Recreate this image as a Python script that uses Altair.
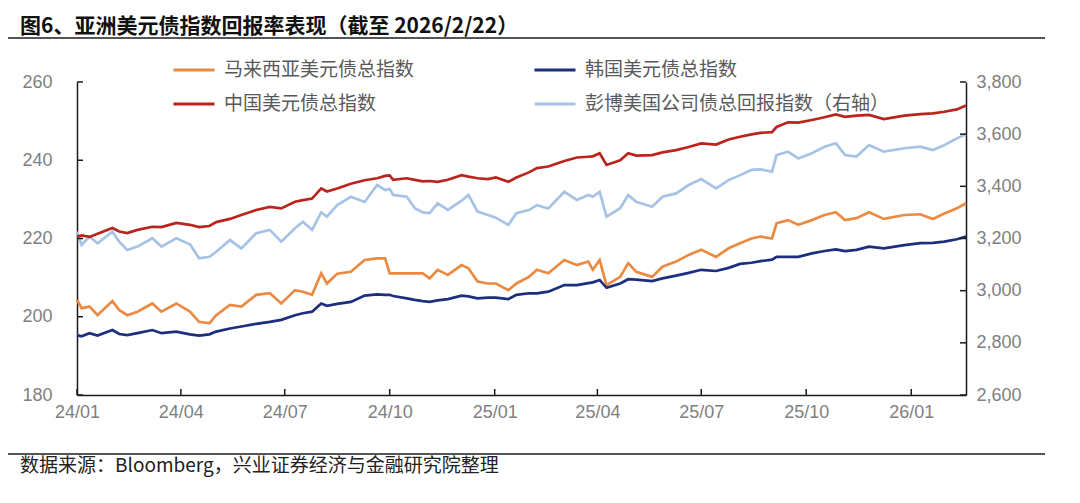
import altair as alt
import pandas as pd

# ---------------- data ----------------
dates = [
    "2024-01-01", "2024-01-05", "2024-01-12", "2024-01-19", "2024-02-01",
    "2024-02-07", "2024-02-14", "2024-02-23", "2024-03-07", "2024-03-15",
    "2024-03-28", "2024-04-09", "2024-04-17", "2024-04-26", "2024-05-02",
    "2024-05-14", "2024-05-24", "2024-06-06", "2024-06-18", "2024-06-28",
    "2024-07-10", "2024-07-17", "2024-07-25", "2024-08-02", "2024-08-07",
    "2024-08-16", "2024-08-28", "2024-09-09", "2024-09-20", "2024-09-27",
    "2024-10-01", "2024-10-04", "2024-10-16", "2024-10-23", "2024-10-30",
    "2024-11-05", "2024-11-12", "2024-11-21", "2024-12-03", "2024-12-09",
    "2024-12-17", "2024-12-26", "2025-01-02", "2025-01-13", "2025-01-20",
    "2025-01-31", "2025-02-07", "2025-02-17", "2025-03-03", "2025-03-14",
    "2025-03-24", "2025-03-28", "2025-04-03", "2025-04-09", "2025-04-21",
    "2025-04-28", "2025-05-05", "2025-05-19", "2025-05-28", "2025-06-09",
    "2025-06-20", "2025-07-01", "2025-07-14", "2025-07-25", "2025-08-04",
    "2025-08-14", "2025-08-22", "2025-09-01", "2025-09-05", "2025-09-15",
    "2025-09-24", "2025-10-06", "2025-10-17", "2025-10-27", "2025-11-04",
    "2025-11-14", "2025-11-25", "2025-12-08", "2025-12-26", "2026-01-09",
    "2026-01-20", "2026-01-30", "2026-02-10", "2026-02-18",
]

malaysia = [
    204.3, 202.2, 202.6, 200.4, 204.0, 201.7, 200.4, 201.3, 203.4, 201.3,
    203.4, 201.3, 198.7, 198.3, 200.4, 203.0, 202.6, 205.6, 206.0, 203.4,
    206.8, 206.4, 205.6, 211.1, 208.5, 211.0, 211.5, 214.5, 214.9, 214.9,
    211.1, 211.1, 211.1, 211.1, 211.1, 209.8, 212.0, 210.7, 213.2, 212.4,
    209.0, 208.5, 208.5, 206.8, 208.5, 210.2, 212.0, 211.1, 214.5, 213.2,
    214.1, 212.0, 214.5, 208.1, 210.2, 213.7, 211.5, 210.2, 212.8, 214.1,
    215.8, 217.1, 215.3, 217.5, 218.8, 220.0, 220.5, 220.0, 223.9, 224.7,
    223.5, 224.7, 226.0, 226.7, 224.7, 225.2, 226.7, 225.0, 226.0, 226.2,
    225.0, 226.4, 227.7, 229.0,
]

korea = [
    195.3, 195.0, 195.8, 195.2, 196.6, 195.6, 195.3, 195.8, 196.6, 195.8,
    196.2, 195.5, 195.2, 195.5, 196.2, 197.0, 197.5, 198.2, 198.7, 199.2,
    200.4, 200.9, 201.3, 203.4, 202.8, 203.3, 203.8, 205.4, 205.7, 205.6,
    205.6, 205.3, 204.7, 204.3, 204.0, 203.8, 204.2, 204.5, 205.4, 205.2,
    204.7, 204.9, 204.9, 204.5, 205.6, 206.0, 206.0, 206.4, 208.1, 208.1,
    208.6, 208.8, 209.4, 207.4, 208.5, 209.6, 209.5, 209.1, 209.8, 210.5,
    211.2, 212.0, 211.7, 212.5, 213.5, 213.8, 214.2, 214.6, 215.3, 215.3,
    215.3, 216.2, 216.8, 217.2, 216.8, 217.1, 217.9, 217.5, 218.3, 218.8,
    218.9, 219.2, 219.8, 220.5,
]

china = [
    220.5, 220.8, 220.4, 221.2, 222.7, 221.8, 221.4, 222.2, 223.0, 222.9,
    224.0, 223.5, 222.9, 223.2, 224.2, 225.0, 226.0, 227.3, 228.1, 227.7,
    229.4, 229.8, 230.2, 232.8, 232.0, 232.8, 234.0, 234.9, 235.4, 236.0,
    236.1, 235.0, 235.4, 235.0, 234.6, 234.7, 234.5, 235.0, 236.2, 235.8,
    235.4, 235.2, 235.6, 234.5, 235.6, 236.9, 238.0, 238.4, 239.8, 240.7,
    240.9, 241.0, 241.8, 238.8, 240.0, 241.8, 241.2, 241.3, 242.0, 242.6,
    243.4, 244.3, 244.0, 245.3, 246.0, 246.6, 247.0, 247.2, 248.5, 249.7,
    249.6, 250.3, 251.0, 251.7, 251.1, 251.4, 251.6, 250.5, 251.4, 251.8,
    252.0, 252.4, 253.0, 254.0,
]

us_corp = [
    3226, 3175, 3207, 3182, 3226, 3188, 3156, 3169, 3201, 3169,
    3201, 3178, 3124, 3130, 3149, 3194, 3162, 3220, 3233, 3188,
    3239, 3264, 3233, 3300, 3284, 3328, 3360, 3340, 3405, 3386,
    3390, 3367, 3360, 3316, 3300, 3297, 3335, 3310, 3345, 3367,
    3303, 3290, 3280, 3252, 3297, 3309, 3328, 3315, 3379, 3348,
    3367, 3360, 3379, 3284, 3316, 3367, 3341, 3322, 3360, 3373,
    3405, 3428, 3392, 3424, 3443, 3463, 3465, 3456, 3520, 3533,
    3507, 3527, 3552, 3565, 3520, 3514, 3558, 3533, 3546, 3552,
    3539, 3558, 3584, 3600,
]

# legend order (filled column by column): col 1 = Malaysia, China; col 2 = Korea, US corp
series_names = [
    "马来西亚美元债总指数",
    "中国美元债总指数",
    "韩国美元债总指数",
    "彭博美国公司债总回报指数（右轴）",
]
series_colors = ["#EA8A43", "#B9251E", "#1C2E7D", "#A6C3E6"]

x_tick_years = [2024, 2024, 2024, 2024, 2025, 2025, 2025, 2025, 2026]
x_tick_months = [1, 4, 7, 10, 1, 4, 7, 10, 1]
left_ticks = [180, 200, 220, 240, 260]
right_ticks = [2600, 2800, 3000, 3200, 3400, 3600, 3800]

title_text = "图6、亚洲美元债指数回报率表现（截至 2026/2/22）"
source_text = "数据来源：Bloomberg，兴业证券经济与金融研究院整理"

# ---------------- tables ----------------
n = len(dates)
left_df = pd.DataFrame({
    "date": dates * 3,
    "value": malaysia + korea + china,
    "series": ["马来西亚美元债总指数"] * n + ["韩国美元债总指数"] * n + ["中国美元债总指数"] * n,
})
right_df = pd.DataFrame({"date": dates, "value": us_corp, "series": [series_names[3]] * n})
xtick_df = pd.DataFrame({"d": [f"{y}-{m:02d}-01" for y, m in zip(x_tick_years, x_tick_months)]})
ltick_df = pd.DataFrame({"v": left_ticks})
rtick_df = pd.DataFrame({"v": right_ticks})

# ---------------- styling ----------------
W, H = 889, 313
AXIS_COLOR = "#1a1a1a"
LABEL_COLOR = "#808080"
NUM_FONT = "Liberation Sans"
CJK_FONT = "Noto Sans CJK SC"

x_scale = alt.Scale(
    type="utc",
    domain=[alt.DateTime(year=2024, month=1, date=1, utc=True),
            alt.DateTime(year=2026, month=2, date=18, utc=True)],
)
x_axis = alt.Axis(
    values=[alt.DateTime(year=y, month=m, date=1, utc=True) for y, m in zip(x_tick_years, x_tick_months)],
    format="%y/%m", title=None, grid=False, ticks=False, tickSize=0,
    labelFont=NUM_FONT, labelFontSize=18, labelColor=LABEL_COLOR, labelPadding=8,
    domainColor=AXIS_COLOR, domainWidth=1.5, labelFlush=False,
)
left_scale = alt.Scale(domain=[180, 260], nice=False, zero=False)
right_scale = alt.Scale(domain=[2600, 3800], nice=False, zero=False)

color_scale = alt.Scale(domain=series_names, range=series_colors)
legend = alt.Legend(
    orient="none", legendX=95, legendY=-34, columns=2, columnPadding=113, rowPadding=2,
    title=None, symbolType="stroke", symbolSize=1681, symbolStrokeWidth=3,
    labelFont=CJK_FONT, labelFontSize=19, labelColor="#595959", labelOffset=8, labelLimit=0,
)

right_line = alt.Chart(right_df).mark_line(strokeWidth=2.7).encode(
    x=alt.X("date:T", scale=x_scale, axis=x_axis),
    y=alt.Y("value:Q", scale=right_scale, axis=alt.Axis(
        orient="right", values=right_ticks, format=",.0f", title=None, grid=False,
        ticks=False, tickSize=0, labelFont=NUM_FONT, labelFontSize=18, labelColor=LABEL_COLOR,
        labelPadding=10, domainColor=AXIS_COLOR, domainWidth=1.5)),
    color=alt.Color("series:N", scale=color_scale, legend=legend),
)

left_lines = alt.Chart(left_df).mark_line(strokeWidth=2.7).encode(
    x=alt.X("date:T", scale=x_scale, axis=x_axis),
    y=alt.Y("value:Q", scale=left_scale, axis=alt.Axis(
        orient="left", values=left_ticks, title=None, grid=False,
        ticks=False, tickSize=0, labelFont=NUM_FONT, labelFontSize=18, labelColor=LABEL_COLOR,
        labelPadding=25, domainColor=AXIS_COLOR, domainWidth=1.5)),
    color=alt.Color("series:N", scale=color_scale, legend=legend),
)

# inward tick marks
left_tick_marks = alt.Chart(ltick_df).mark_rule(color=AXIS_COLOR, strokeWidth=1.5).encode(
    y=alt.Y("v:Q", scale=left_scale, axis=None), x=alt.value(0), x2=alt.value(6))
right_tick_marks = alt.Chart(rtick_df).mark_rule(color=AXIS_COLOR, strokeWidth=1.5).encode(
    y=alt.Y("v:Q", scale=right_scale, axis=None), x=alt.value(W), x2=alt.value(W - 6))
x_tick_marks = alt.Chart(xtick_df).mark_rule(color=AXIS_COLOR, strokeWidth=1.5).encode(
    x=alt.X("d:T", scale=x_scale, axis=x_axis), y=alt.value(H), y2=alt.value(H - 6))

# title, separators, source
title_mark = alt.Chart(pd.DataFrame({"t": [title_text]})).mark_text(
    align="left", baseline="alphabetic", font=CJK_FONT, fontSize=21, fontWeight="bold", color="#111111"
).encode(text="t:N", x=alt.value(-57), y=alt.value(-49.5))
top_rule = alt.Chart(pd.DataFrame({"k": [0]})).mark_rule(color="#555555", strokeWidth=2).encode(
    x=alt.value(-69), x2=alt.value(968), y=alt.value(-44))
bottom_rule = alt.Chart(pd.DataFrame({"k": [0]})).mark_rule(color="#555555", strokeWidth=2).encode(
    x=alt.value(-69), x2=alt.value(968), y=alt.value(372))
source_mark = alt.Chart(pd.DataFrame({"t": [source_text]})).mark_text(
    align="left", baseline="middle", font=CJK_FONT, fontSize=19, color="#222222"
).encode(text="t:N", x=alt.value(-57), y=alt.value(384))

chart = alt.layer(
    right_line, left_lines, left_tick_marks, right_tick_marks, x_tick_marks,
    title_mark, top_rule, bottom_rule, source_mark,
).resolve_scale(y="independent").properties(
    width=W, height=H,
    autosize=alt.AutoSizeParams(type="none"),
    padding={"left": 69, "top": 74, "right": 106, "bottom": 100},
    background="white",
).configure_view(stroke=None)

chart.save("out.html", embed_options={"renderer": "svg", "actions": False})
